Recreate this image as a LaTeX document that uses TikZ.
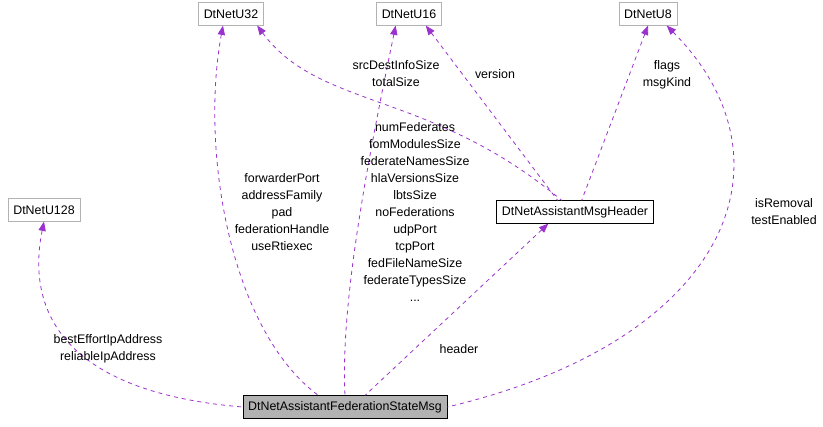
\documentclass[tikz,border=0pt]{standalone}
\usepackage{fontspec}
\setmainfont{Liberation Sans}
\usetikzlibrary{arrows.meta}
\definecolor{usecol}{HTML}{9A32CD}
\tikzset{
  cls/.style={draw=black!30, fill=white, font=\fontsize{9.3}{11}\selectfont, minimum height=17pt, inner xsep=4pt},
  main/.style={cls, draw=black},
  uses/.style={usecol, dashed, semithick, {Triangle[length=7pt,width=5.5pt]}-},
  lbl/.style={font=\fontsize{9.3}{12.75}\selectfont, align=center, inner sep=0pt}
}
\begin{document}
\begin{tikzpicture}[x=0.75pt,y=-0.75pt]
\useasboundingbox (0,0) rectangle (823,427);
% classes
\node[cls] (u32) at (231,14) {DtNetU32};
\node[cls] (u16) at (409,14) {DtNetU16};
\node[cls] (u8) at (648,14) {DtNetU8};
\node[cls] (u128) at (44,210) {DtNetU128};
\node[main] (hdr) at (575,212) {DtNetAssistantMsgHeader};
\node[main, fill=black!30] (state) at (345,407) {DtNetAssistantFederationStateMsg};
% members
\draw[uses] (u128.south) .. controls (30,290) and (40,390) .. (state.west);
\draw[uses] (u32.south) ++(-6pt,0) .. controls (200,150) and (230,330) .. ([xshift=-20pt]state.north);
\draw[uses] (u16.south) ++(-10pt,0) .. controls (370,150) and (340,300) .. (state.north);
\draw[uses] (hdr.south) ++(-20pt,0) -- ([xshift=15pt]state.north);
\draw[uses] (u8.south east) ++(-8pt,0) .. controls (800,160) and (730,340) .. (state.east);
\draw[uses] (u32.south east) ++(-5pt,0) .. controls (320,110) and (430,90) .. ([xshift=-10pt]hdr.north);
\draw[uses] (u16.south east) ++(-12pt,0) -- ([xshift=-13pt]hdr.north);
\draw[uses] (u8.south) -- ([xshift=5pt]hdr.north);
% labels
\node[lbl] (l1) at (282,212) {forwarderPort\\addressFamily\\pad\\federationHandle\\useRtiexec};
\node[lbl] (l2) at (396,74) {srcDestInfoSize\\totalSize};
\node[lbl] (l3) at (415,212) {numFederates\\fomModulesSize\\federateNamesSize\\hlaVersionsSize\\lbtsSize\\noFederations\\udpPort\\tcpPort\\fedFileNameSize\\federateTypesSize\\...};
\node[lbl] (l4) at (495,74) {version};
\node[lbl] (l5) at (667,75) {flags\\msgKind};
\node[lbl] (l6) at (784,212) {isRemoval\\testEnabled};
\node[lbl] (l7) at (108,349) {bestEffortIpAddress\\reliableIpAddress};
\node[lbl] (l8) at (459,349) {header};
\end{tikzpicture}
\end{document}
